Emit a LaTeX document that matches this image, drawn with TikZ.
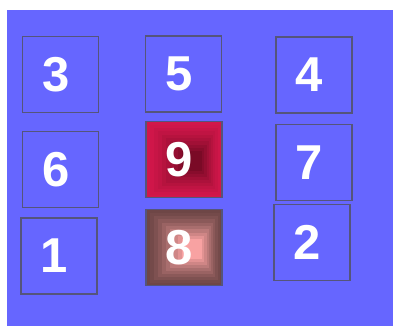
\documentclass[tikz,border=0pt]{standalone}
\usepackage{xcolor}
\usepackage{fontspec}
\setmainfont{Liberation Sans}
\usetikzlibrary{calc}
\definecolor{bgblue}{HTML}{6666FF}
\definecolor{edgegray}{HTML}{55557A}
\definecolor{nineout}{HTML}{D2174A}
\definecolor{ninein}{HTML}{7A0A26}
\definecolor{eightout}{HTML}{6E4646}
\definecolor{eightin}{HTML}{F8A2A2}
% concentric square bands, stepping from #1 (rim) to #2 (core)
\newcommand{\squareshade}[2]{%
  \foreach \k in {0,...,9}{
    \pgfmathtruncatemacro\pct{100*(\k/9)^1.4}
    \pgfmathsetmacro\half{38-\k*3.1}
    \fill[#2!\pct!#1]
      ($(path picture bounding box.center)+(\k*0.9pt-\half pt,-\k*0.2pt-\half pt)$)
      rectangle
      ($(path picture bounding box.center)+(\k*0.9pt+\half pt,-\k*0.2pt+\half pt)$);
  }}
\tikzset{
    numbox/.style={rectangle, draw=edgegray, line width=1.6pt,
                   minimum size=76pt, inner sep=0pt},
    numlbl/.style={text=white, font=\fontsize{49}{49}\selectfont\bfseries,
                   xshift=-4.5pt, inner sep=0pt},
    ninebox/.style={numbox, path picture={\squareshade{nineout}{ninein}}},
    eightbox/.style={numbox, path picture={\squareshade{eightout}{eightin}}}
}
\begin{document}
\begin{tikzpicture}[x=1pt, y=-1pt]
% ── Canvas ────────────────────────────────────────────────────────────
\useasboundingbox (0,0) rectangle (393,326);
\fill[bgblue] (7,10) rectangle (393,326);

% ── Left column ───────────────────────────────────────────────────────
\node[numbox, label={[numlbl]center:3}] at (60.5, 74.5) (b3) {};
\node[numbox, label={[numlbl]center:6}] at (60.5,169.5) (b6) {};
\node[numbox, label={[numlbl]center:1}] at (59,  256)   (b1) {};

% ── Middle column ─────────────────────────────────────────────────────
\node[numbox,   label={[numlbl]center:5}] at (183.5, 74)   (b5) {};
\node[ninebox,  label={[numlbl]center:9}] at (184,  159.5) (b9) {};
\node[eightbox, label={[numlbl]center:8}] at (184,  247.5) (b8) {};

% ── Right column ──────────────────────────────────────────────────────
\node[numbox, label={[numlbl]center:4}] at (314, 75)    (b4) {};
\node[numbox, label={[numlbl]center:7}] at (314, 162.5) (b7) {};
\node[numbox, label={[numlbl]center:2}] at (312, 242.5) (b2) {};
\end{tikzpicture}
\end{document}
